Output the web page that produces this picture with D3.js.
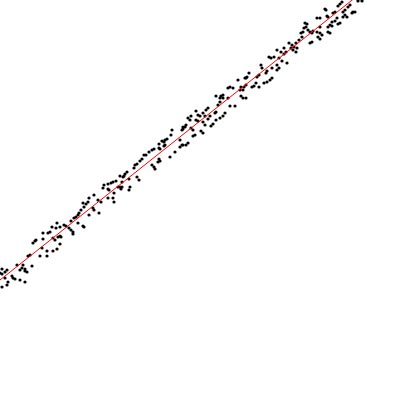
<!DOCTYPE html>
<html>
<head>
<meta charset="utf-8">
<script src="https://cdn.jsdelivr.net/npm/d3@7"></script>
<style>
  body { margin: 0; background: #fff; }
  svg { display: block; }
</style>
</head>
<body>
<div class="chart"></div>
<script>
// values (x right, y up)
var pointX = [
  57,52,56,60,43,48,50,60,43,53,55,58,35,33,36,60,42,47,57,53,40,28,30,47,23,22,25,20,17,32,25,27,2,7,5,0,2,12,13,15,20,5,7,2,8,25,
  120,123,116,113,111,108,104,118,121,120,108,109,103,114,113,114,108,101,94,89,88,98,83,86,84,93,94,99,81,79,78,76,74,89,71,78,64,66,69,71,73,73,83,84,61,
  183,182,172,171,167,165,164,162,159,180,182,180,165,164,160,159,154,152,149,146,144,175,170,159,160,158,142,140,137,135,134,152,154,155,127,125,124,137,139,129,122,130,129,122,
  238,245,228,230,233,241,243,240,223,221,220,223,216,241,243,228,220,218,208,206,196,198,200,203,205,230,235,215,216,225,223,210,208,191,188,190,196,198,203,205,216,220,213,211,186,185,183,191,193,201,203,195,193,186,188,183,
  303,304,306,301,302,299,289,292,296,294,297,291,293,296,284,281,286,284,277,269,271,274,279,282,287,277,272,261,262,267,266,279,277,272,270,267,264,259,257,249,247,246,256,254,252,246,244,259,246,
  358,350,348,340,342,338,353,352,355,345,343,325,326,335,333,345,347,343,327,328,317,320,337,335,340,338,332,330,307,305,332,328,320,308,310,312,313,317,320,322,328,330,318,320,312,310,362
];
var pointY = [
  177,173,172,173,167,167,168,164,161,162,160,163,159,157,160,156,152,149,151,149,144,144,145,144,135,132,131,130,135,134,129,128,131,130,128,127,126,124,122,121,120,122,115,113,118,118,
  224,223,219,218,217,216,215,213,211,213,211,210,212,207,202,198,202,198,205,202,198,200,197,196,193,192,190,187,190,187,185,183,182,185,179,177,175,174,172,170,168,166,174,173,163,
  273,270,270,265,261,260,258,259,256,260,255,253,255,254,251,252,251,250,248,245,245,248,243,241,239,238,241,239,236,235,232,235,233,231,228,226,224,223,220,221,218,213,210,213,
  320,322,312,313,312,313,310,310,305,304,302,302,304,304,302,302,298,295,292,290,289,285,284,287,284,294,294,287,288,287,284,284,281,284,282,280,280,279,278,275,280,282,276,274,275,273,271,272,270,269,267,265,264,255,257,255,
  368,372,373,367,363,360,357,355,357,353,352,352,350,348,352,348,348,346,350,343,342,343,342,339,337,335,332,335,332,329,327,332,330,322,320,318,317,325,323,327,323,322,317,314,313,315,313,313,302,
  399,395,393,396,398,394,388,387,388,390,388,391,390,388,387,385,383,383,384,383,382,382,382,379,377,376,378,375,376,377,374,373,373,370,368,367,369,368,367,365,368,367,363,361,358,357,399
];

// fitted line end points
var lineX = [0, 360];
var lineY = [120, 406.2];

var svgWidth = 400;
var svgHeight = 400;

var svg = d3.select(".chart")
  .append("svg")
  .attr("width", svgWidth)
  .attr("height", svgHeight);

var xScale = d3.scaleLinear()
  .domain([0, 400])
  .range([0, svgWidth]);

var yScale = d3.scaleLinear()
  .domain([0, 400])
  .range([svgHeight, 0]);

var points = pointX.map(function(x, i) { return { x: x, y: pointY[i] }; });

svg.append("g")
  .selectAll("circle")
  .data(points)
  .enter()
  .append("circle")
  .attr("cx", d => xScale(d.x))
  .attr("cy", d => yScale(d.y))
  .attr("r", 1.6)
  .attr("fill", "black");

var line = d3.line()
  .x(d => xScale(d[0]))
  .y(d => yScale(d[1]));

svg.append("path")
  .datum(lineX.map((x, i) => [x, lineY[i]]))
  .attr("d", line)
  .attr("fill", "none")
  .attr("stroke", "red")
  .attr("stroke-width", 1);
</script>
</body>
</html>
